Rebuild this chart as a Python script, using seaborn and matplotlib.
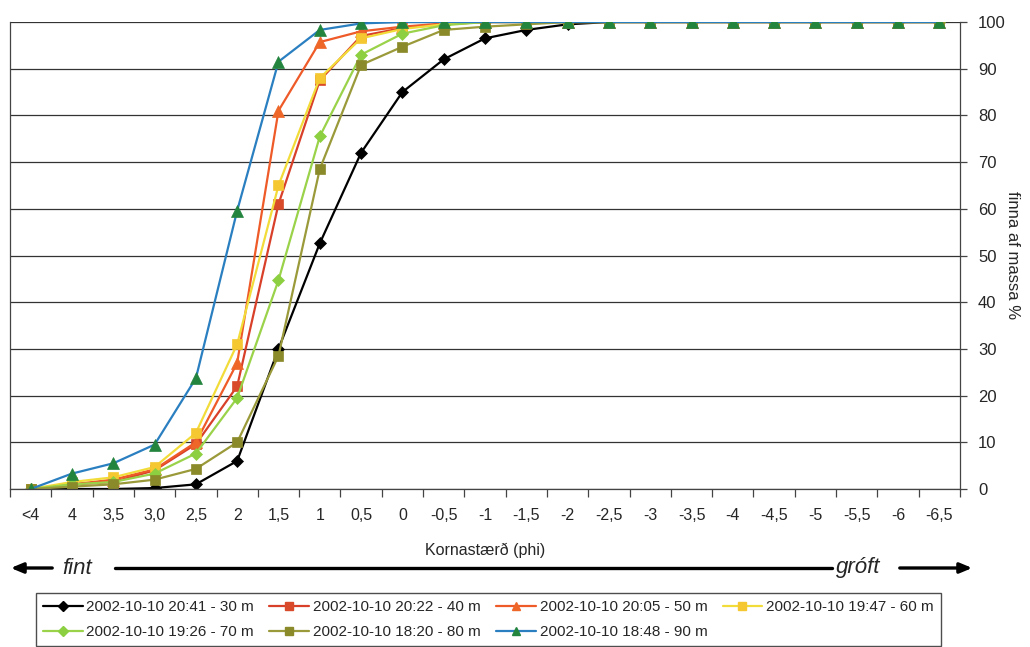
import matplotlib
matplotlib.use("Agg")
import matplotlib.pyplot as plt
from matplotlib.lines import Line2D
import seaborn as sns
import pandas as pd

categories = ["<4", "4", "3,5", "3,0", "2,5", "2", "1,5", "1", "0,5", "0", "-0,5", "-1",
              "-1,5", "-2", "-2,5", "-3", "-3,5", "-4", "-4,5", "-5", "-5,5", "-6", "-6,5"]

s30 = [0, 0, 0, 0.2, 1, 6, 30, 52.6, 72, 85, 92, 96.5, 98.3, 99.5, 100, 100, 100, 100, 100, 100, 100, 100, 100]
s40 = [0, 1, 1.5, 4, 9.6, 22, 61, 87.5, 97, 98.7, 99.5, 100, 100, 100, 100, 100, 100, 100, 100, 100, 100, 100, 100]
s50 = [0, 1, 2, 4.2, 10, 27, 81, 95.7, 98, 99, 99.7, 100, 100, 100, 100, 100, 100, 100, 100, 100, 100, 100, 100]
s60 = [0, 1.5, 2.5, 4.7, 12, 31, 65, 88, 96.5, 98.5, 99.5, 100, 100, 100, 100, 100, 100, 100, 100, 100, 100, 100, 100]
s70 = [0, 1, 1.5, 3.3, 7.6, 19.5, 44.7, 75.5, 93, 97.5, 99.3, 100, 100, 100, 100, 100, 100, 100, 100, 100, 100, 100, 100]
s80 = [0, 0.5, 1, 2, 4.3, 10, 28.5, 68.5, 90.8, 94.7, 98.3, 99, 99.5, 100, 100, 100, 100, 100, 100, 100, 100, 100, 100]
s90 = [0, 3.3, 5.5, 9.5, 23.7, 59.6, 91.5, 98.3, 99.7, 100, 100, 100, 100, 100, 100, 100, 100, 100, 100, 100, 100, 100, 100]

series_names = ["2002-10-10 20:41 - 30 m", "2002-10-10 20:22 - 40 m", "2002-10-10 20:05 - 50 m",
                "2002-10-10 19:47 - 60 m", "2002-10-10 19:26 - 70 m", "2002-10-10 18:20 - 80 m",
                "2002-10-10 18:48 - 90 m"]
series_values = [s30, s40, s50, s60, s70, s80, s90]

line_colors = ["#000000", "#d8402a", "#ee5a28", "#f2dc3a", "#9ad24a", "#9a9a3a", "#2a7fc0"]
marker_colors = ["#000000", "#d84a2a", "#ee6628", "#f5c832", "#8ccf40", "#8a8a2a", "#23843e"]
markers = ["D", "s", "^", "s", "D", "s", "^"]
msizes = [6, 7, 8, 7, 6, 7, 8]

sns.set_theme(style="white")
plt.rcParams["font.family"] = ["Liberation Sans", "DejaVu Sans"]

fig = plt.figure(figsize=(10.3, 6.47), dpi=100)
ax = fig.add_axes([10 / 1030, 1 - 489 / 647, 950 / 1030, 467 / 647])

for name, vals, lc, mc, m, ms in zip(series_names, series_values, line_colors, marker_colors, markers, msizes):
    df = pd.DataFrame({"x": categories, "y": vals})
    sns.lineplot(data=df, x="x", y="y", ax=ax, color=lc, linewidth=1.6,
                 marker=m, markersize=ms, markerfacecolor=mc, markeredgecolor=mc,
                 markeredgewidth=0.5, sort=False, legend=False)

ax.set_xlim(-0.5, len(categories) - 0.5)
ax.set_ylim(0, 100)
ax.set_yticks(range(0, 101, 10))
ax.yaxis.tick_right()
ax.yaxis.set_label_position("right")
ax.grid(axis="y", color="#333333", linewidth=0.9)
ax.grid(axis="x", visible=False)
for s in ax.spines.values():
    s.set_color("#444444")
    s.set_linewidth(0.9)
ax.spines["top"].set_visible(False)

ax.set_xticks(range(len(categories)))
ax.set_xticklabels(categories, fontsize=11.5)
ax.set_xticks([i - 0.5 for i in range(len(categories) + 1)], minor=True)
ax.tick_params(axis="x", which="major", length=0, pad=14)
ax.tick_params(axis="x", which="minor", length=6, width=0.9, color="#444444", direction="out", bottom=True)
ax.tick_params(axis="y", which="major", length=5, width=0.9, color="#444444", direction="out",
               right=True, labelsize=12, pad=8)
ax.set_xlabel("Kornastærð (phi)", fontsize=11.5, labelpad=14)
ax.set_ylabel("finna af massa %", fontsize=12, rotation=270, labelpad=10)

# fint / gróft arrow row
y_arrow = 1 - 568 / 647
def fx(px):
    return px / 1030
fig.add_artist(plt.Line2D([fx(115), fx(832)], [y_arrow, y_arrow], color="black", linewidth=2.4,
                          transform=fig.transFigure))
ax.annotate("", xy=(fx(8), y_arrow), xytext=(fx(55), y_arrow), xycoords="figure fraction",
            textcoords="figure fraction",
            arrowprops=dict(arrowstyle="-|>,head_length=0.6,head_width=0.25", color="black", lw=2.4))
ax.annotate("", xy=(fx(975), y_arrow), xytext=(fx(897), y_arrow), xycoords="figure fraction",
            textcoords="figure fraction",
            arrowprops=dict(arrowstyle="-|>,head_length=0.6,head_width=0.25", color="black", lw=2.4))
fig.text(fx(62), y_arrow, "fint", fontsize=16, style="italic", va="center", ha="left")
fig.text(fx(836), y_arrow, "gróft", fontsize=16, style="italic", va="center", ha="left")

# legend (row-major order for 4 columns)
handles = [Line2D([0], [0], color=lc, linewidth=1.6, marker=m, markersize=ms * 0.8,
                  markerfacecolor=mc, markeredgecolor=mc)
           for lc, mc, m, ms in zip(line_colors, marker_colors, markers, msizes)]
order = [0, 4, 1, 5, 2, 6, 3]
leg = fig.legend([handles[i] for i in order], [series_names[i] for i in order],
                 loc="upper left", bbox_to_anchor=(fx(36), 1 - 593 / 647),
                 ncol=4, frameon=True, fancybox=False, edgecolor="#222222",
                 handlelength=2.6, handletextpad=0.25, columnspacing=1.0, borderpad=0.45,
                 borderaxespad=0, labelspacing=0.75, prop={"size": 11})
leg.get_frame().set_linewidth(1.0)

fig.savefig("out.png", dpi=100, facecolor="white")
